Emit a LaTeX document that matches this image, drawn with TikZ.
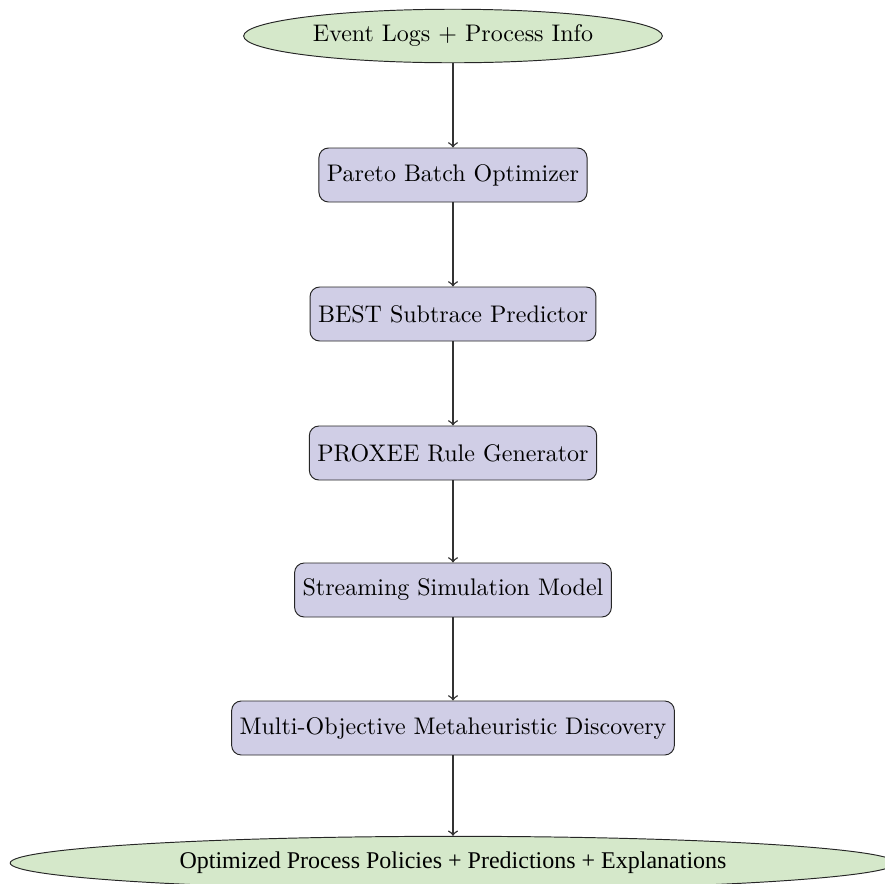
\documentclass[tikz,border=0pt]{standalone}
\usepackage{fontspec}
\newfontfamily\timesfont{Liberation Serif}
\usetikzlibrary{shapes.geometric}
\definecolor{termfill}{RGB}{213,232,202}
\definecolor{boxfill}{RGB}{208,206,230}
\tikzset{
  term/.style={ellipse, draw=black!85, fill=termfill, inner sep=3.33pt},
  stage/.style={rectangle, rounded corners=4pt, draw=black!85, fill=boxfill, minimum height=22.5pt, inner sep=3.33pt},
  flow/.style={->, draw=black!80, semithick}
}
\begin{document}
\begin{tikzpicture}[x=0.416667pt, y=-0.416667pt]
\useasboundingbox (0,0) rectangle (885,883);
\node[term] (in) at (453,36) {Event Logs + Process Info};
\node[stage] (s1) at (453,175) {Pareto Batch Optimizer};
\node[stage] (s2) at (453,314) {BEST Subtrace Predictor};
\node[stage] (s3) at (453,453) {PROXEE Rule Generator};
\node[stage] (s4) at (453,590) {Streaming Simulation Model};
\node[stage] (s5) at (453,728) {Multi-Objective Metaheuristic Discovery};
\node[term, minimum width=369pt, minimum height=21pt] (out) at (453,863) {\timesfont Optimized Process Policies + Predictions + Explanations};
\draw[flow] (in) -- (s1);
\draw[flow] (s1) -- (s2);
\draw[flow] (s2) -- (s3);
\draw[flow] (s3) -- (s4);
\draw[flow] (s4) -- (s5);
\draw[flow] (s5) -- (out);
\end{tikzpicture}
\end{document}
